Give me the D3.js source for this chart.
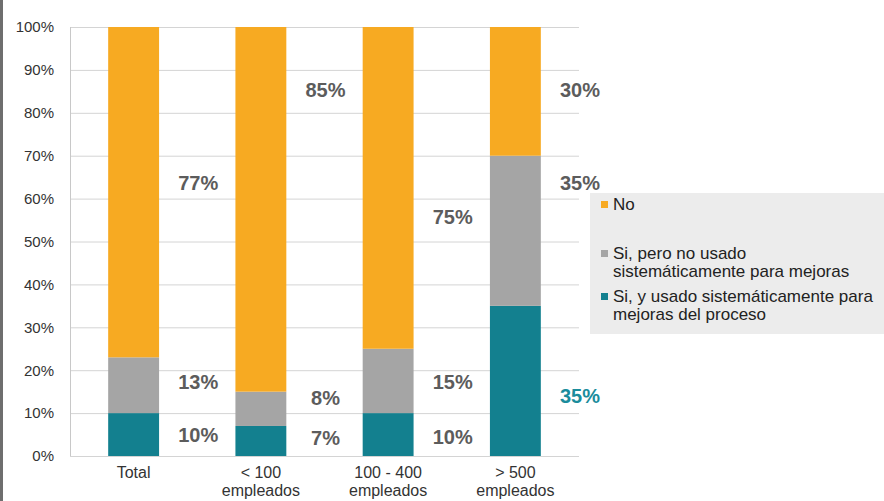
<!DOCTYPE html>
<html>
<head>
<meta charset="utf-8">
<script src="https://cdn.jsdelivr.net/npm/d3@7"></script>
<style>
  body { margin: 0; background: #fff; }
  svg { font-family: "Liberation Sans", Arial, sans-serif; }
  .axis path { display: none; }
  .axis line { stroke: #d0d0d0; }
  .axis text { fill: #333; font-size: 15px; }
</style>
</head>
<body>
<script>
// data
var categories = ["Total", "< 100|empleados", "100 - 400|empleados", "> 500|empleados"];
var seriesNames = ["Si, y usado sistemáticamente para|mejoras del proceso",
                   "Si, pero no usado|sistemáticamente para mejoras",
                   "No"];
var siUsado   = [10, 7, 10, 35];
var siNoUsado = [13, 8, 15, 35];
var no        = [77, 85, 75, 30];
// where each percent label sits (in axis units)
var labelAtSiUsado   = [5, 4.2, 4.4, 14];
var labelAtSiNoUsado = [17.2, 13.5, 17.2, 63.6];
var labelAtNo        = [63.6, 85.3, 55.7, 85.3];
var yTicks = [0, 10, 20, 30, 40, 50, 60, 70, 80, 90, 100];
var colors = ["#13808f", "#a5a5a5", "#f7aa22"];

var W = 884, H = 501;
var svg = d3.select("body").append("svg").attr("width", W).attr("height", H);

var x = d3.scaleBand().domain(categories).range([70, 579]).paddingInner(0.6).paddingOuter(0.3);
var y = d3.scaleLinear().domain([0, 100]).range([456, 27]);

// left frame stripe
svg.append("rect").attr("x", 0).attr("y", 0).attr("width", 3).attr("height", H).attr("fill", "#6e6e6e");

// gridlines
svg.append("g").selectAll("line").data(yTicks).join("line")
  .attr("x1", 70).attr("x2", 579)
  .attr("y1", function(d) { return y(d) + 0.5; })
  .attr("y2", function(d) { return y(d) + 0.5; })
  .attr("stroke", "#d4d4d4");

svg.append("line").attr("x1", 70.5).attr("x2", 70.5).attr("y1", y(100)).attr("y2", y(0))
  .attr("stroke", "#c8c8c8");

// y axis
svg.append("g").attr("class", "axis")
  .attr("transform", "translate(70,0)")
  .call(d3.axisLeft(y).tickValues(yTicks).tickSize(0).tickPadding(16)
    .tickFormat(function(d) { return d + "%"; }));

// stacked bars
var rows = categories.map(function(c, i) {
  return { cat: c, a: siUsado[i], b: siNoUsado[i], c: no[i] };
});
var stack = d3.stack().keys(["a", "b", "c"])(rows);

svg.append("g").selectAll("g").data(stack).join("g")
  .attr("fill", function(d, i) { return colors[i]; })
  .selectAll("rect").data(function(d) { return d; }).join("rect")
  .attr("x", function(d) { return x(d.data.cat); })
  .attr("width", x.bandwidth())
  .attr("y", function(d) { return y(d[1]); })
  .attr("height", function(d) { return y(d[0]) - y(d[1]); });

// percent labels
var labels = [];
categories.forEach(function(c, i) {
  labels.push({ cat: c, v: siUsado[i], at: labelAtSiUsado[i], teal: i === 3 });
  labels.push({ cat: c, v: siNoUsado[i], at: labelAtSiNoUsado[i] });
  labels.push({ cat: c, v: no[i], at: labelAtNo[i] });
});
svg.append("g").selectAll("text").data(labels).join("text")
  .attr("x", function(d) { return x(d.cat) + x.bandwidth() / 2 + x.step() / 2 + 1; })
  .attr("y", function(d) { return y(d.at); })
  .attr("dy", "0.35em")
  .attr("text-anchor", "middle")
  .attr("font-size", 20)
  .attr("font-weight", "bold")
  .attr("fill", function(d) { return d.teal ? "#1a8c9c" : "#5c5c5c"; })
  .text(function(d) { return d.v + "%"; });

// category labels
var xl = svg.append("g").selectAll("text").data(categories).join("text")
  .attr("x", function(d) { return x(d) + x.bandwidth() / 2; })
  .attr("y", 478)
  .attr("text-anchor", "middle")
  .attr("font-size", 16)
  .attr("fill", "#333");
xl.selectAll("tspan").data(function(d) { return d.split("|"); }).join("tspan")
  .attr("x", function() { return d3.select(this.parentNode).attr("x"); })
  .attr("dy", function(d, i) { return i ? 18 : 0; })
  .text(function(d) { return d; });

// legend
svg.append("rect").attr("x", 590).attr("y", 193).attr("width", 294).attr("height", 141)
  .attr("fill", "#ececec");
var legendItems = [
  { name: seriesNames[2], color: colors[2], y: 210 },
  { name: seriesNames[1], color: colors[1], y: 259 },
  { name: seriesNames[0], color: colors[0], y: 302 }
];
var lg = svg.append("g").selectAll("g").data(legendItems).join("g")
  .attr("transform", function(d) { return "translate(601," + d.y + ")"; });
lg.append("rect").attr("x", 0).attr("y", -9).attr("width", 7).attr("height", 7)
  .attr("fill", function(d) { return d.color; });
lg.append("text").attr("x", 12).attr("y", 0).attr("font-size", 17).attr("fill", "#222")
  .selectAll("tspan").data(function(d) { return d.name.split("|"); }).join("tspan")
  .attr("x", 12).attr("dy", function(d, i) { return i ? 18 : 0; })
  .text(function(d) { return d; });
</script>
</body>
</html>
